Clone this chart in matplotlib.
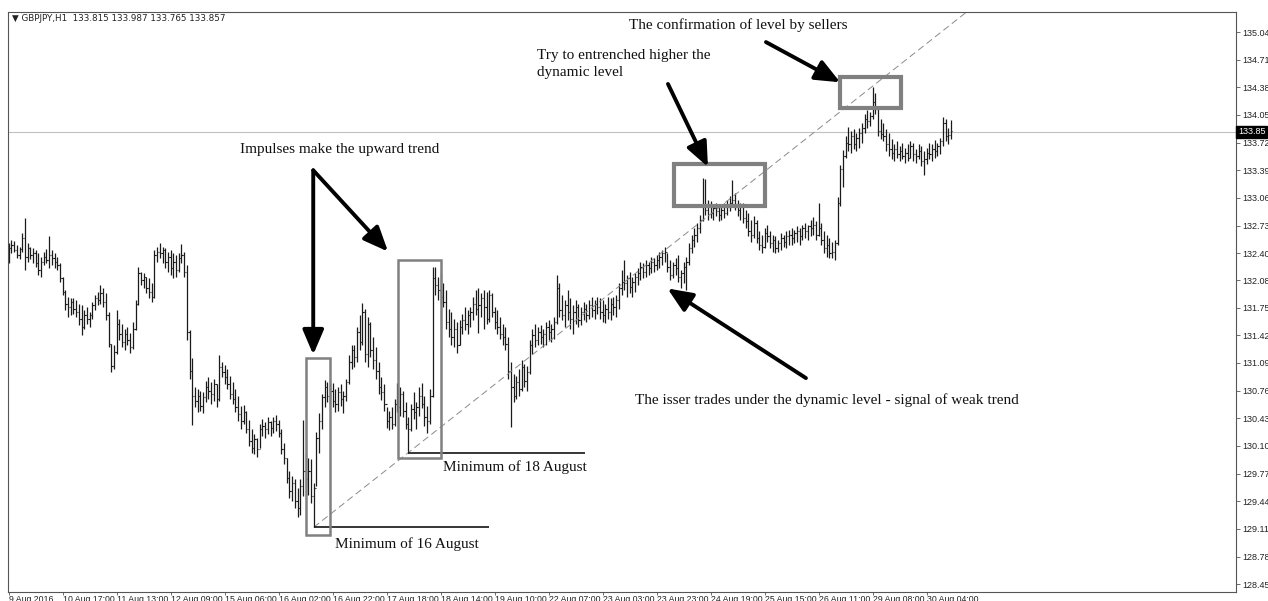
import matplotlib
matplotlib.use('Agg')
import matplotlib.pyplot as plt
import matplotlib.transforms as mtransforms
from matplotlib.patches import Rectangle
import numpy as np

# ---------- GBPJPY H1 bars ----------
highs = [
    132.52, 132.56, 132.55, 132.50, 132.48, 132.64, 132.82, 132.52, 132.48, 132.46,
    132.44, 132.40, 132.36, 132.42, 132.45, 132.61, 132.44, 132.40, 132.36, 132.28,
    132.12, 131.96, 131.88, 131.87, 131.86, 131.84, 131.80, 131.78, 131.72, 131.76,
    131.70, 131.82, 131.90, 131.94, 132.02, 131.98, 131.93, 131.70, 131.32, 131.30,
    131.72, 131.62, 131.56, 131.50, 131.52, 131.45, 131.58, 131.84, 132.24, 132.18,
    132.16, 132.12, 132.10, 132.04, 132.44, 132.48, 132.52, 132.48, 132.46, 132.42,
    132.44, 132.40, 132.38, 132.40, 132.51, 132.42, 132.26, 131.48, 131.15, 130.80,
    130.78, 130.76, 130.74, 130.88, 130.92, 130.86, 130.90, 130.84, 131.19, 131.10,
    131.07, 131.02, 130.94, 130.86, 130.78, 130.70, 130.58, 130.59, 130.52, 130.41,
    130.30, 130.24, 130.20, 130.36, 130.42, 130.38, 130.44, 130.40, 130.45, 130.47,
    130.41, 130.30, 130.14, 129.96, 129.80, 129.74, 129.70, 129.60, 129.70, 130.41,
    130.00, 129.96, 129.95, 129.66, 130.27, 130.49, 130.72, 130.89, 130.86, 130.84,
    130.85, 130.78, 130.80, 130.84, 130.76, 130.90, 131.18, 131.31, 131.30, 131.52,
    131.66, 131.81, 131.74, 131.64, 131.58, 131.40, 131.28, 131.10, 130.92, 130.84,
    130.57, 130.52, 130.56, 130.66, 130.85, 130.80, 130.76, 130.62, 130.44, 130.60,
    130.74, 130.62, 130.80, 130.85, 130.70, 130.58, 130.78, 132.24, 132.24, 132.12,
    132.16, 132.04, 131.96, 131.74, 131.70, 131.62, 131.58, 131.60, 131.68, 131.76,
    131.72, 131.76, 131.88, 131.96, 131.99, 131.92, 131.96, 131.94, 131.96, 131.92,
    131.76, 131.72, 131.64, 131.56, 131.52, 131.40, 131.10, 130.96, 130.94, 131.02,
    131.13, 131.08, 131.06, 131.36, 131.50, 131.56, 131.52, 131.54, 131.50, 131.58,
    131.60, 131.56, 131.64, 132.14, 132.04, 131.90, 131.84, 131.96, 131.86, 131.78,
    131.84, 131.80, 131.76, 131.82, 131.80, 131.84, 131.88, 131.84, 131.88, 131.86,
    131.84, 131.80, 131.88, 131.86, 131.88, 131.90, 132.04, 132.20, 132.32, 132.14,
    132.18, 132.12, 132.16, 132.22, 132.30, 132.28, 132.32, 132.30, 132.36, 132.34,
    132.38, 132.42, 132.44, 132.47, 132.40, 132.32, 132.30, 132.34, 132.38, 132.20,
    132.30, 132.36, 132.52, 132.62, 132.70, 132.76, 132.86, 133.30, 133.28, 133.04,
    133.02, 132.98, 133.00, 132.98, 132.96, 133.00, 133.04, 133.08, 133.27, 133.12,
    133.04, 133.00, 133.00, 132.92, 132.88, 132.80, 132.84, 132.80, 132.66, 132.62,
    132.70, 132.74, 132.66, 132.62, 132.60, 132.56, 132.64, 132.62, 132.66, 132.68,
    132.70, 132.68, 132.72, 132.70, 132.74, 132.76, 132.74, 132.80, 132.83, 132.78,
    133.00, 132.76, 132.66, 132.62, 132.58, 132.54, 132.56, 133.07, 133.45, 133.63,
    133.80, 133.91, 133.86, 133.88, 133.84, 133.90, 133.96, 134.06, 134.11, 134.08,
    134.38, 134.31, 134.14, 134.00, 133.96, 133.88, 133.83, 133.76, 133.70, 133.74,
    133.68, 133.72, 133.66, 133.70, 133.74, 133.72, 133.64, 133.70, 133.68, 133.62,
    133.66, 133.72, 133.70, 133.75, 133.72, 133.78, 134.03, 134.00, 133.90, 133.987,
]
lows = [
    132.28, 132.40, 132.42, 132.34, 132.33, 132.42, 132.20, 132.30, 132.33, 132.28,
    132.24, 132.14, 132.12, 132.26, 132.28, 132.22, 132.26, 132.22, 132.20, 132.06,
    131.90, 131.72, 131.64, 131.66, 131.68, 131.64, 131.54, 131.42, 131.50, 131.56,
    131.52, 131.62, 131.72, 131.78, 131.80, 131.76, 131.60, 131.28, 130.98, 131.02,
    131.20, 131.36, 131.28, 131.24, 131.30, 131.21, 131.26, 131.48, 131.78, 132.02,
    131.98, 131.92, 131.86, 131.82, 131.86, 132.30, 132.34, 132.28, 132.22, 132.18,
    132.14, 132.10, 132.12, 132.18, 132.28, 132.12, 131.36, 130.90, 130.35, 130.56,
    130.50, 130.52, 130.49, 130.62, 130.66, 130.60, 130.64, 130.57, 130.64, 130.92,
    130.84, 130.78, 130.66, 130.60, 130.50, 130.40, 130.30, 130.36, 130.25, 130.10,
    130.02, 130.00, 129.97, 130.08, 130.22, 130.20, 130.24, 130.22, 130.26, 130.28,
    130.21, 130.00, 129.88, 129.66, 129.48, 129.44, 129.36, 129.25, 129.28, 129.50,
    129.60, 129.52, 129.42, 129.13, 129.62, 130.02, 130.30, 130.56, 130.62, 130.60,
    130.56, 130.50, 130.52, 130.58, 130.49, 130.64, 130.84, 131.02, 131.04, 131.10,
    131.25, 131.30, 131.10, 131.04, 131.16, 131.02, 130.90, 130.72, 130.65, 130.52,
    130.32, 130.29, 130.30, 130.34, 130.50, 130.46, 130.45, 130.30, 130.02, 130.28,
    130.42, 130.30, 130.46, 130.55, 130.34, 130.25, 130.36, 130.68, 131.90, 131.84,
    131.80, 131.76, 131.50, 131.40, 131.30, 131.28, 131.21, 131.30, 131.44, 131.48,
    131.44, 131.52, 131.60, 131.66, 131.45, 131.64, 131.50, 131.56, 131.58, 131.64,
    131.50, 131.44, 131.38, 131.30, 131.25, 130.90, 130.33, 130.62, 130.66, 130.70,
    130.76, 130.80, 130.76, 130.96, 131.20, 131.28, 131.30, 131.32, 131.28, 131.30,
    131.36, 131.34, 131.38, 131.56, 131.64, 131.60, 131.52, 131.60, 131.50, 131.44,
    131.56, 131.52, 131.54, 131.60, 131.58, 131.62, 131.64, 131.62, 131.68, 131.62,
    131.58, 131.57, 131.62, 131.60, 131.66, 131.64, 131.74, 131.90, 131.96, 131.88,
    131.92, 131.88, 131.94, 132.02, 132.08, 132.10, 132.12, 132.14, 132.16, 132.18,
    132.20, 132.22, 132.26, 132.30, 132.18, 132.08, 132.10, 132.14, 132.06, 131.98,
    132.04, 131.96, 132.26, 132.40, 132.48, 132.54, 132.64, 132.78, 132.86, 132.80,
    132.82, 132.80, 132.84, 132.78, 132.80, 132.82, 132.86, 132.90, 132.96, 132.92,
    132.84, 132.80, 132.76, 132.70, 132.60, 132.54, 132.58, 132.52, 132.44, 132.40,
    132.46, 132.54, 132.46, 132.42, 132.40, 132.42, 132.44, 132.48, 132.46, 132.50,
    132.50, 132.52, 132.54, 132.50, 132.56, 132.58, 132.56, 132.60, 132.62, 132.56,
    132.60, 132.50, 132.40, 132.36, 132.34, 132.34, 132.32, 132.50, 132.96, 133.19,
    133.54, 133.62, 133.60, 133.64, 133.62, 133.66, 133.72, 133.84, 133.90, 133.92,
    134.00, 134.06, 133.80, 133.76, 133.74, 133.62, 133.56, 133.52, 133.50, 133.54,
    133.50, 133.52, 133.48, 133.50, 133.54, 133.50, 133.48, 133.52, 133.44, 133.33,
    133.46, 133.52, 133.50, 133.54, 133.56, 133.58, 133.68, 133.74, 133.70, 133.765,
]
closes = [
    132.46, 132.50, 132.44, 132.38, 132.45, 132.58, 132.36, 132.46, 132.38, 132.40,
    132.28, 132.20, 132.30, 132.36, 132.32, 132.38, 132.34, 132.30, 132.26, 132.10,
    131.94, 131.80, 131.76, 131.82, 131.74, 131.70, 131.62, 131.52, 131.66, 131.62,
    131.66, 131.78, 131.86, 131.84, 131.92, 131.82, 131.66, 131.32, 131.06, 131.22,
    131.56, 131.44, 131.34, 131.44, 131.36, 131.28, 131.50, 131.80, 132.16, 132.08,
    132.12, 131.98, 131.94, 131.88, 132.38, 132.42, 132.40, 132.44, 132.30, 132.36,
    132.22, 132.30, 132.20, 132.34, 132.38, 132.18, 131.46, 131.00, 130.70, 130.64,
    130.70, 130.58, 130.68, 130.80, 130.76, 130.72, 130.84, 130.66, 131.04, 130.98,
    130.92, 130.84, 130.72, 130.66, 130.56, 130.48, 130.40, 130.50, 130.30, 130.16,
    130.08, 130.18, 130.06, 130.30, 130.34, 130.30, 130.38, 130.32, 130.40, 130.36,
    130.26, 130.06, 129.96, 129.72, 129.56, 129.66, 129.44, 129.36, 129.62, 129.80,
    129.70, 129.80, 129.50, 129.60, 130.20, 130.40, 130.68, 130.80, 130.70, 130.76,
    130.64, 130.60, 130.74, 130.66, 130.70, 130.86, 131.10, 131.24, 131.16, 131.46,
    131.34, 131.70, 131.20, 131.56, 131.24, 131.12, 131.00, 130.80, 130.74, 130.60,
    130.40, 130.44, 130.36, 130.60, 130.56, 130.72, 130.52, 130.36, 130.30, 130.54,
    130.50, 130.56, 130.70, 130.60, 130.44, 130.40, 130.70, 132.10, 132.02, 131.96,
    131.88, 131.82, 131.58, 131.50, 131.40, 131.50, 131.30, 131.52, 131.60, 131.56,
    131.66, 131.70, 131.80, 131.74, 131.78, 131.86, 131.76, 131.62, 131.90, 131.70,
    131.58, 131.52, 131.44, 131.40, 131.32, 131.00, 130.80, 130.70, 130.86, 130.78,
    131.04, 130.88, 130.98, 131.30, 131.42, 131.36, 131.46, 131.40, 131.44, 131.52,
    131.46, 131.50, 131.58, 131.98, 131.72, 131.66, 131.78, 131.70, 131.62, 131.70,
    131.76, 131.60, 131.70, 131.74, 131.66, 131.78, 131.72, 131.80, 131.76, 131.70,
    131.66, 131.74, 131.70, 131.80, 131.76, 131.84, 131.98, 132.06, 132.04, 132.10,
    132.00, 132.06, 132.12, 132.16, 132.24, 132.18, 132.26, 132.22, 132.30, 132.26,
    132.32, 132.36, 132.40, 132.42, 132.24, 132.14, 132.26, 132.22, 132.12, 132.16,
    132.24, 132.30, 132.46, 132.56, 132.62, 132.70, 132.80, 132.98, 132.92, 132.96,
    132.88, 132.94, 132.90, 132.86, 132.92, 132.88, 132.98, 133.00, 133.04, 132.98,
    132.92, 132.96, 132.82, 132.78, 132.66, 132.62, 132.76, 132.58, 132.50, 132.48,
    132.64, 132.60, 132.52, 132.56, 132.46, 132.52, 132.58, 132.54, 132.60, 132.62,
    132.58, 132.64, 132.66, 132.60, 132.70, 132.66, 132.72, 132.70, 132.74, 132.62,
    132.70, 132.56, 132.46, 132.50, 132.40, 132.42, 132.52, 133.00, 133.40, 133.56,
    133.72, 133.70, 133.80, 133.70, 133.78, 133.84, 133.90, 134.00, 133.98, 134.04,
    134.20, 134.12, 133.86, 133.82, 133.80, 133.70, 133.64, 133.60, 133.64, 133.58,
    133.62, 133.56, 133.60, 133.54, 133.68, 133.58, 133.56, 133.62, 133.50, 133.52,
    133.60, 133.58, 133.64, 133.62, 133.68, 133.74, 133.96, 133.80, 133.815, 133.857,
]
first_open = 132.40
opens = [first_open] + closes[:-1]   # forex bars open at the previous close

time_labels = ['9 Aug 2016', '10 Aug 17:00', '11 Aug 13:00', '12 Aug 09:00',
               '15 Aug 06:00', '16 Aug 02:00', '16 Aug 22:00', '17 Aug 18:00',
               '18 Aug 14:00', '19 Aug 10:00', '22 Aug 07:00', '23 Aug 03:00',
               '23 Aug 23:00', '24 Aug 19:00', '25 Aug 15:00', '26 Aug 11:00',
               '29 Aug 08:00', '30 Aug 04:00']
BARS_PER_LABEL = 20
price_ticks = [135.04, 134.71, 134.38, 134.05, 133.72, 133.39, 133.06, 132.73,
               132.40, 132.08, 131.75, 131.42, 131.09, 130.76, 130.43, 130.10,
               129.77, 129.44, 129.11, 128.78, 128.45]
last_price = 133.85
header = '\u25bc GBPJPY,H1  133.815 133.987 133.765 133.857'

# bars that the annotations refer to
MIN16_BAR = 113
MIN18_BAR = 148

# ---------- figure ----------
W, H = 1268, 601
fig = plt.figure(figsize=(W / 100, H / 100), dpi=100)
ax = fig.add_axes([8 / W, 9 / H, 1228 / W, 580 / H])
ax.set_xlim(-0.26, 454.6)
ax.set_ylim(128.357, 135.279)

x = np.arange(len(highs))
bar_col = '#1a1a1a'
ax.vlines(x, lows, highs, color=bar_col, lw=0.9)
ax.hlines(opens, x - 0.45, x, color=bar_col, lw=0.8)
ax.hlines(closes, x, x + 0.45, color=bar_col, lw=0.8)

# last price line + label
ax.axhline(last_price, color='#c0c0c0', lw=0.8, zorder=0)
blend = mtransforms.blended_transform_factory(ax.transAxes, ax.transData)
ax.text(1.0015, last_price, f'{last_price:.2f}', transform=blend, ha='left',
        va='center', color='white', fontsize=6.5, family='Liberation Sans',
        bbox=dict(fc='black', ec='black', pad=1.0), clip_on=False, zorder=5)

# axes styling (MT4 look)
for s in ax.spines.values():
    s.set_color('#555555')
    s.set_linewidth(0.8)
ax.yaxis.tick_right()
ax.set_yticks(price_ticks)
ax.set_yticklabels([f'{p:.2f}' for p in price_ticks])
ax.set_xticks(np.arange(len(time_labels)) * BARS_PER_LABEL)
ax.set_xticklabels(time_labels, ha='left')
ax.tick_params(axis='y', length=3, width=0.6, color='#555555',
               labelsize=6.5, labelcolor='#222222', pad=1.5)
ax.tick_params(axis='x', length=2, width=0.6, color='#555555',
               labelsize=6.3, labelcolor='#222222', pad=0.3)
for lab in ax.get_xticklabels() + ax.get_yticklabels():
    lab.set_family('Liberation Sans')

ax.text(0.0035, 0.988, header, transform=ax.transAxes, ha='left', va='center',
        fontsize=6.3, color='#222222', family='DejaVu Sans')

# ---------- annotations ----------
lo16 = lows[MIN16_BAR]
lo18 = lows[MIN18_BAR]
slope = (lo18 - lo16) / (MIN18_BAR - MIN16_BAR)
ax.plot([MIN16_BAR, 400], [lo16, lo16 + slope * (400 - MIN16_BAR)],
        color='#8a8a8a', lw=0.7, ls=(0, (7, 4)))

ax.hlines(lo16, MIN16_BAR, 178, color='black', lw=1.1)
ax.hlines(lo18, MIN18_BAR, 213.5, color='black', lw=1.1)

boxes = [  # (bar0, bar1, price_lo, price_hi, width)
    (110.1, 119.0, 129.04, 131.15, 1.8),
    (144.2, 160.1, 129.96, 132.32, 1.8),
    (246.4, 280.1, 132.96, 133.46, 3.0),
    (307.9, 330.5, 134.13, 134.50, 3.0),
]
for b0, b1, p0, p1, lw in boxes:
    ax.add_patch(Rectangle((b0, p0), b1 - b0, p1 - p0, fill=False,
                           ec='#808080', lw=lw, zorder=4))

arrows = [  # (tail, tip)
    ((112.8, 133.39), (112.8, 131.19)),
    ((112.8, 133.39), (140.5, 132.42)),
    ((244.2, 134.42), (259.0, 133.43)),
    ((280.5, 134.92), (308.0, 134.44)),
    ((295.3, 130.91), (244.0, 131.98)),
]
for tail, tip in arrows:
    ax.annotate('', xy=tip, xytext=tail,
                arrowprops=dict(arrowstyle='-|>,head_length=0.75,head_width=0.32',
                                mutation_scale=20, lw=2.8, color='black',
                                shrinkA=0, shrinkB=0), zorder=6)

serif = dict(family='Liberation Serif', fontsize=11, color='#111111', zorder=6)
ax.text(85.7, 133.64, 'Impulses make the upward trend', va='center', **serif)
ax.text(195.7, 134.66, 'Try to entrenched higher the\ndynamic level', va='center',
        linespacing=1.45, **serif)
ax.text(229.8, 135.12, 'The confirmation of level by sellers', va='center', **serif)
ax.text(232.0, 130.65, 'The isser trades under the dynamic level - signal of weak trend',
        va='center', **serif)
ax.text(160.9, 129.85, 'Minimum of 18 August', va='center', **serif)
ax.text(120.9, 128.93, 'Minimum of 16 August', va='center', **serif)

fig.savefig('out.png', dpi=100, facecolor='white')
